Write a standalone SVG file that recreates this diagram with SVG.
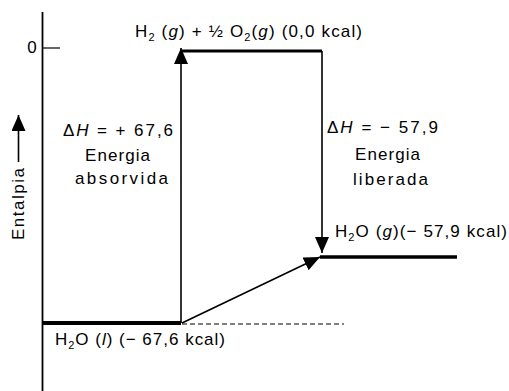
<svg xmlns="http://www.w3.org/2000/svg" width="509" height="391" viewBox="0 0 509 391">
<style>
text{font-family:"Liberation Sans",Arial,sans-serif;font-size:17px;fill:#000}
.c{text-anchor:middle}
.i{font-style:italic}
.s{font-size:11px}
.lvl{stroke:#000;fill:none}
.arr{stroke:#000;stroke-width:1.6;fill:none}
</style>
<defs>
<marker id="ah" markerUnits="userSpaceOnUse" markerWidth="16" markerHeight="14" refX="16" refY="7" orient="auto">
<path d="M0,0 L16,7 L0,14 z" fill="#000"/>
</marker>
</defs>
<rect width="509" height="391" fill="#fff"/>
<g id="axis">
<line x1="42.5" y1="12" x2="42.5" y2="391" stroke="#000" stroke-width="1.8"/>
<line x1="43" y1="48" x2="60" y2="48" stroke="#000" stroke-width="1.2"/>
<text x="32" y="53" class="c">0</text>
<text class="c" transform="translate(24,204) rotate(-90)" textLength="72" lengthAdjust="spacing">Entalpia</text>
<line x1="18.5" y1="162" x2="18.5" y2="115" class="arr" marker-end="url(#ah)"/>
</g>
<g id="level-top">
<line x1="182" y1="51" x2="322" y2="51" class="lvl" stroke-width="3"/>
<text x="135" y="37" textLength="227" lengthAdjust="spacing">H<tspan class="s" dy="4">2</tspan><tspan dy="-4"> (</tspan><tspan class="i">g</tspan>) + ½ O<tspan class="s" dy="4">2</tspan><tspan dy="-4">(</tspan><tspan class="i">g</tspan>) (0,0 kcal)</text>
</g>
<g id="level-liquid">
<line x1="42" y1="323" x2="181" y2="323" class="lvl" stroke-width="4"/>
<line x1="182" y1="324" x2="344" y2="324" stroke="#000" stroke-width="1.2" stroke-dasharray="5 3"/>
<text x="55" y="345" textLength="170" lengthAdjust="spacing">H<tspan class="s" dy="4">2</tspan><tspan dy="-4">O (</tspan><tspan class="i">l</tspan>) (− 67,6 kcal)</text>
</g>
<g id="level-gas">
<line x1="320" y1="257" x2="457" y2="257" class="lvl" stroke-width="3.5"/>
<text x="335" y="237" textLength="172" lengthAdjust="spacing">H<tspan class="s" dy="4">2</tspan><tspan dy="-4">O (</tspan><tspan class="i">g</tspan>)(− 57,9 kcal)</text>
</g>
<g id="label-absorbed">
<text x="63" y="136" textLength="110" lengthAdjust="spacing">Δ<tspan class="i">H</tspan> = + 67,6</text>
<text x="117.5" y="161" class="c" textLength="65" lengthAdjust="spacing">Energia</text>
<text x="121.5" y="184" class="c" textLength="93" lengthAdjust="spacing">absorvida</text>
</g>
<g id="label-released">
<text x="327" y="133" textLength="111" lengthAdjust="spacing">Δ<tspan class="i">H</tspan> = − 57,9</text>
<text x="387.5" y="160" class="c" textLength="65" lengthAdjust="spacing">Energia</text>
<text x="390.5" y="185" class="c" textLength="75" lengthAdjust="spacing">liberada</text>
</g>
<g id="connectors">
<line x1="181" y1="323" x2="181" y2="48" class="arr" marker-end="url(#ah)"/>
<line x1="322" y1="51" x2="322" y2="253" class="arr" marker-end="url(#ah)"/>
<line x1="182" y1="323" x2="320" y2="257" class="arr" marker-end="url(#ah)"/>
</g>
</svg>
